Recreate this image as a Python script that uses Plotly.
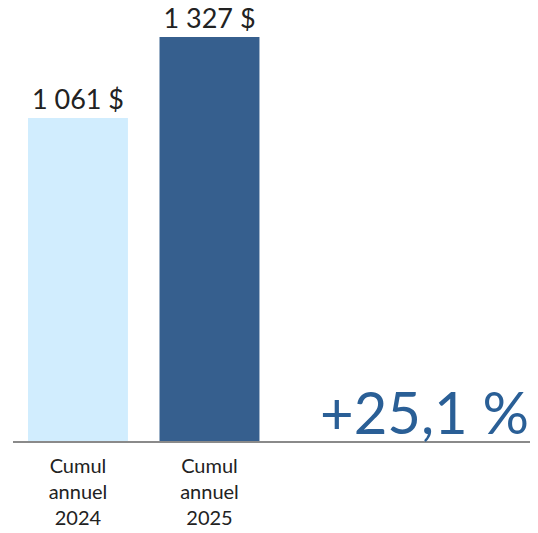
import plotly.graph_objects as go

categories = ["Cumul<br>annuel<br>2024", "Cumul<br>annuel<br>2025"]
values = [1061, 1327]
value_labels = ["1 061 $", "1 327 $"]
growth_label = "+25,1 %"
bar_colors = ["#d1edfe", "#365f8e"]

fig = go.Figure()
fig.add_trace(go.Bar(
    x=[0, 1], y=values, width=0.76,
    marker=dict(color=bar_colors, line=dict(width=0)),
    text=value_labels, textposition="outside", cliponaxis=False,
    textfont=dict(size=27, color="#222222", family="Lato"),
))
fig.add_annotation(
    text=growth_label, xref="paper", yref="y", x=0.987, y=0,
    xanchor="right", yanchor="bottom", showarrow=False, yshift=-7,
    font=dict(size=58, color="#2a5f96", family="Lato"),
)
fig.update_layout(
    width=530, height=525,
    margin=dict(l=5, r=0, t=0, b=92),
    paper_bgcolor="white", plot_bgcolor="white",
    showlegend=False,
    xaxis=dict(range=[-0.494, 3.498], tickvals=[0, 1], ticktext=categories,
               showgrid=False, zeroline=False, showline=True,
               linecolor="#8a8a8a", linewidth=1.5, ticks="",
               ticklabelstandoff=6,
               tickfont=dict(size=20, color="#222222", family="Lato")),
    yaxis=dict(range=[0, 1422], visible=False),
)
fig.write_html("out.html")
